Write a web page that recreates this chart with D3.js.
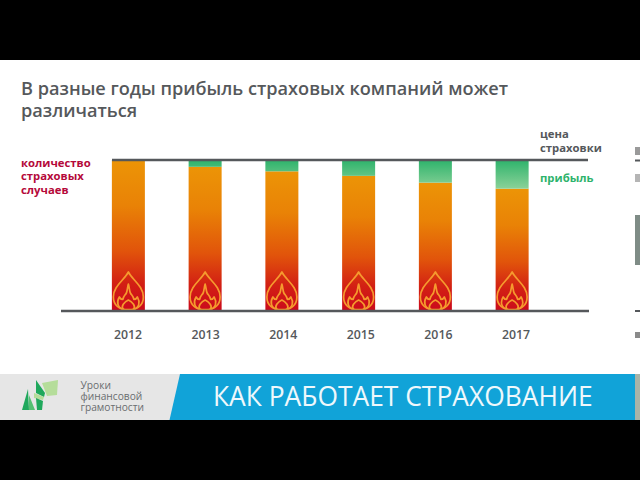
<!DOCTYPE html>
<html><head><meta charset="utf-8">
<script src="https://cdn.jsdelivr.net/npm/d3@7"></script>
<style>html,body{margin:0;padding:0;background:#000;overflow:hidden}svg{display:block}</style>
</head><body><svg id="c" width="640" height="480"></svg>
<script>
const years = ["2012","2013","2014","2015","2016","2017"];
const claims = [99.5, 95.5, 92.5, 89.5, 85, 81];
const profit = [0.5, 4.5, 7.5, 10.5, 15, 19];
const titleLines = ["В разные годы прибыль страховых компаний может","различаться"];
const claimsLabel = ["количество","страховых","случаев"];
const priceLabel = ["цена","страховки"];
const profitLabel = "прибыль";
const logoLines = ["Уроки","финансовой","грамотности"];
const banner = "КАК РАБОТАЕТ СТРАХОВАНИЕ";

const svg = d3.select("#c");
const FONT = "'Open Sans',sans-serif";
const defs = svg.append("defs");
const g1 = defs.append("linearGradient").attr("id","gClaims").attr("x1",0).attr("x2",0).attr("y1",0).attr("y2",1);
[[0,"#ec9406"],[0.3,"#e98206"],[0.6,"#e1540b"],[0.82,"#d21f14"],[1,"#cb0a1c"]].forEach(d=>g1.append("stop").attr("offset",d[0]).attr("stop-color",d[1]));
const g2 = defs.append("linearGradient").attr("id","gProfit").attr("gradientUnits","userSpaceOnUse").attr("x1",0).attr("x2",0).attr("y1",160).attr("y2",190);
[[0,"#2eb36c"],[1,"#8fd39a"]].forEach(d=>g2.append("stop").attr("offset",d[0]).attr("stop-color",d[1]));

svg.append("rect").attr("y",60).attr("width",640).attr("height",360).attr("fill","#fff");

const x = d3.scaleBand().domain(years).range([73.5,567]).paddingInner(0.57).paddingOuter(0.5);
const xLabel = d3.scalePoint().domain(years).range([127.5,515.5]);
const y = d3.scaleLinear().domain([0,100]).range([311,160]);

const t = svg.append("g").attr("font-family",FONT).attr("font-weight",600).attr("font-size",18.15).attr("fill","#55585b");
titleLines.forEach((s,i)=>t.append("text").attr("x",21).attr("y",95+i*22).text(s));

const bars = svg.append("g").selectAll("g").data(years).join("g");
bars.append("rect").attr("x",d=>x(d)).attr("width",x.bandwidth())
  .attr("y",(d,i)=>y(claims[i])).attr("height",(d,i)=>y(0)-y(claims[i])).attr("fill","url(#gClaims)");
bars.append("rect").attr("x",d=>x(d)).attr("width",x.bandwidth())
  .attr("y",(d,i)=>y(claims[i]+profit[i])).attr("height",(d,i)=>y(claims[i])-y(claims[i]+profit[i])).attr("fill","url(#gProfit)");

const flame = bars.append("g").attr("transform",d=>`translate(${x(d)+x.bandwidth()/2},${y(0)})`)
  .attr("fill","none").attr("stroke","#f59a2e").attr("stroke-width",1.7).attr("stroke-linejoin","round").attr("stroke-linecap","round");
flame.append("path").attr("d","M0,-39 C-4,-31 -15,-25 -15,-14 C-15,-6 -9,-1.5 -3,-1.5 L3,-1.5 C9,-1.5 15,-6 15,-14 C15,-25 4,-31 0,-39Z");
flame.append("path").attr("d","M-5,-1.5 C-11,-3 -12,-9 -9,-14 C-8,-12 -7,-11.5 -5.5,-11.5 C-5,-15 -3,-16 -2,-18 C-1,-20 -1,-24 0,-27 C1,-24 1,-20 2,-18 C3,-16 5,-15 5.5,-11.5 C7,-11.5 8,-12 9,-14 C12,-9 11,-3 5,-1.5 C8,-5 4,-9 0,-11 C-4,-9 -8,-5 -5,-1.5Z");

svg.append("line").attr("x1",112).attr("x2",588).attr("y1",y(100)).attr("y2",y(100)).attr("stroke","#55585b").attr("stroke-width",2.6);
svg.append("line").attr("x1",61).attr("x2",589).attr("y1",y(0)).attr("y2",y(0)).attr("stroke","#55585b").attr("stroke-width",2.6);

const ax = svg.append("g").attr("transform","translate(0,339)").call(d3.axisBottom(xLabel).tickSize(0).tickPadding(0));
ax.select(".domain").remove();
ax.selectAll("text").attr("font-family",FONT).attr("font-weight",600).attr("font-size",12.3).attr("fill","#55585b").attr("dy",0).attr("y",0);

const lab = svg.append("g").attr("font-family",FONT).attr("font-weight",700).attr("font-size",11.3);
claimsLabel.forEach((s,i)=>lab.append("text").attr("x",21).attr("y",167+i*13.3).attr("fill","#b5093a").text(s));
priceLabel.forEach((s,i)=>lab.append("text").attr("x",540).attr("y",138+i*13.5).attr("fill","#55585b").text(s));
lab.append("text").attr("x",540).attr("y",182).attr("fill","#2eb36c").text(profitLabel);

// footer
svg.append("rect").attr("y",374).attr("width",640).attr("height",46).attr("fill","#e6e6e6");
svg.append("path").attr("d",d3.line()([[180,374],[635,374],[635,420],[169.5,420]])+"Z").attr("fill","#11a3d8");
const logo = svg.append("g");
[["M22,410 L28,389 L29,410Z","#1fa85c"],
 ["M29,395 L35,410 L29,410Z","#55c072"],
 ["M42,383 L58,380 L57,395 L47,396Z","#b5dd9a"],
 ["M36,380 L45,393 L44,397 L36,393Z","#1fa85c"],
 ["M34,393 L44,397 L43,400 L34,398Z","#b5dd9a"],
 ["M36,398 L43,401 L42,410 L37,410Z","#1fa85c"]]
 .forEach(d=>logo.append("path").attr("d",d[0]).attr("fill",d[1]));
const lt = svg.append("g").attr("font-family",FONT).attr("font-size",10.2).attr("fill","#6a6d70");
logoLines.forEach((s,i)=>lt.append("text").attr("x",80.5).attr("y",389+i*10.8).text(s));
svg.append("text").attr("x",213).attr("y",406).attr("font-family",FONT).attr("font-size",26.4).attr("fill","#eef8fc").text(banner);

// cropped slide on the right edge
const edge = svg.append("g");
[[147,8,"#9a9a9a"],[159.5,2,"#55585b"],[174,8,"#b5b5b5"],[215,50,"#7f8c86"],[310,2,"#55585b"],[332,6,"#8a8a8a"],[374,46,"#a8b4a8"]]
 .forEach(d=>edge.append("rect").attr("x",635).attr("y",d[0]).attr("width",5).attr("height",d[1]).attr("fill",d[2]));
</script></body></html>
